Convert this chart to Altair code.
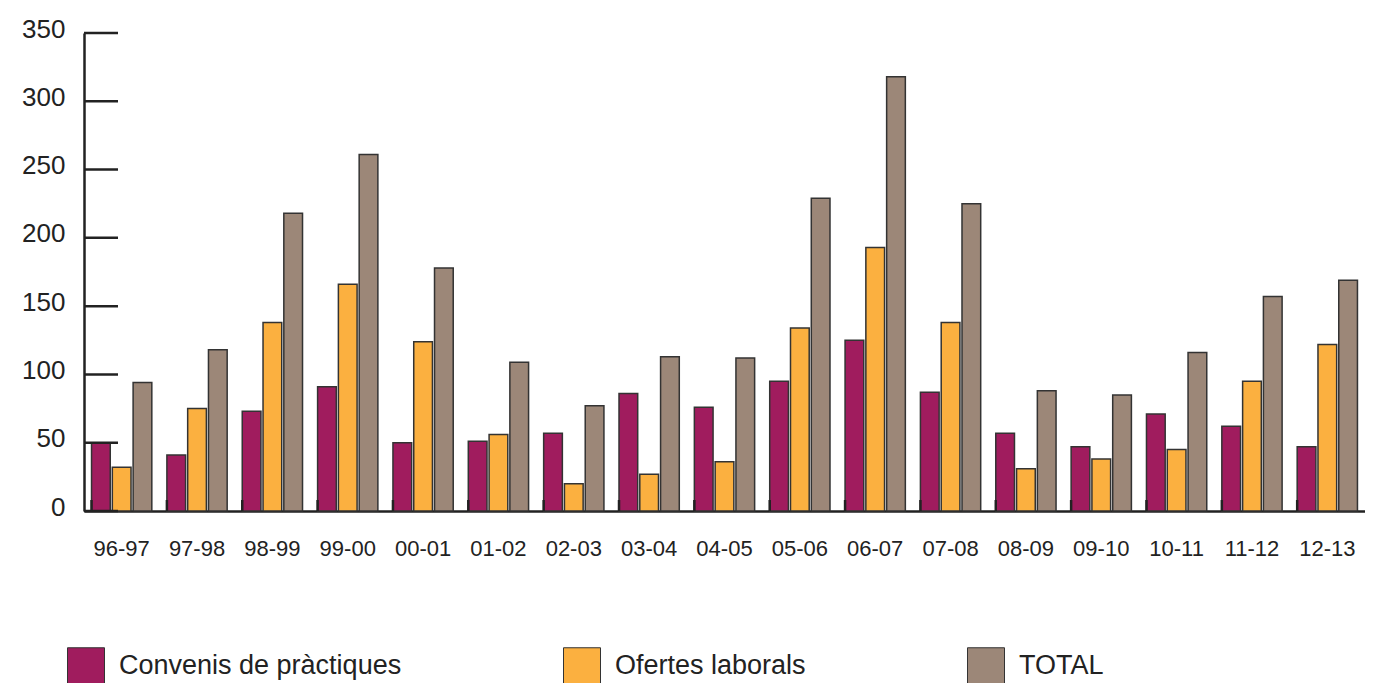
import altair as alt
import pandas as pd

periodes = ["96-97", "97-98", "98-99", "99-00", "00-01", "01-02", "02-03", "03-04", "04-05",
            "05-06", "06-07", "07-08", "08-09", "09-10", "10-11", "11-12", "12-13"]
series = ["Convenis de pràctiques", "Ofertes laborals", "TOTAL"]
convenis = [50, 41, 73, 91, 50, 51, 57, 86, 76, 95, 125, 87, 57, 47, 71, 62, 47]
ofertes = [32, 75, 138, 166, 124, 56, 20, 27, 36, 134, 193, 138, 31, 38, 45, 95, 122]
total = [94, 118, 218, 261, 178, 109, 77, 113, 112, 229, 318, 225, 88, 85, 116, 157, 169]
y_ticks = [0, 50, 100, 150, 200, 250, 300, 350]
colors = ["#A01C5E", "#FBB040", "#9C8778"]

rows = []
for name, vals in zip(series, [convenis, ofertes, total]):
    for p, v in zip(periodes, vals):
        rows.append({"periode": p, "serie": name, "value": v})
df = pd.DataFrame(rows)
ticks_df = pd.DataFrame({"value": y_ticks})
cats_df = pd.DataFrame({"periode": periodes})

W, H = 1281, 478
FONT = "Liberation Sans"

x_scale = alt.Scale(domain=periodes, paddingInner=0.2, paddingOuter=0.1)
y_scale = alt.Scale(domain=[0, 350], nice=False, zero=True)

x_axis = alt.Axis(title=None, ticks=False, labelAngle=0, labelFontSize=22, labelFont=FONT,
                  labelColor="#222222", labelPadding=37, labelBaseline="middle",
                  domainColor="#222222", domainWidth=2.5, grid=False)
y_axis = alt.Axis(title=None, ticks=False, values=y_ticks, labelFontSize=26, labelFont=FONT,
                  labelColor="#222222", labelPadding=19, labelOffset=-4,
                  domainColor="#222222", domainWidth=2.5, grid=False)

bars = alt.Chart(df).mark_bar(stroke="#333333", strokeWidth=1.5).encode(
    x=alt.X("periode:N", scale=x_scale, axis=x_axis),
    xOffset=alt.XOffset("serie:N", sort=series, scale=alt.Scale(domain=series, paddingInner=0.1)),
    y=alt.Y("value:Q", scale=y_scale, axis=y_axis),
    color=alt.Color("serie:N", sort=series,
                    scale=alt.Scale(domain=series, range=colors),
                    legend=alt.Legend(title=None, orient="none", legendX=-17, legendY=614,
                                      direction="horizontal", columns=3, columnPadding=159,
                                      symbolType="square", symbolSize=1369,
                                      symbolStrokeColor="#333333", symbolStrokeWidth=1,
                                      labelFontSize=27, labelFont=FONT, labelColor="#222222",
                                      labelOffset=14, labelLimit=500, padding=0)),
)

y_tick_rules = alt.Chart(ticks_df).mark_rule(color="#222222", strokeWidth=2.5).encode(
    y=alt.Y("value:Q", scale=y_scale, axis=y_axis),
    x=alt.value(0),
    x2=alt.value(34),
)

x_tick_rules = alt.Chart(cats_df).mark_rule(color="#222222", strokeWidth=2.5).encode(
    x=alt.X("periode:N", scale=x_scale, axis=x_axis, bandPosition=0),
    y=alt.value(H - 11),
    y2=alt.value(H),
)

chart = alt.layer(bars, y_tick_rules, x_tick_rules).properties(
    width=W, height=H,
    autosize=alt.AutoSizeParams(type="none"),
    padding={"left": 76, "top": 25, "right": 0, "bottom": 172},
).configure_view(stroke=None)

chart.save("out.html", embed_options={"renderer": "svg", "actions": False})
